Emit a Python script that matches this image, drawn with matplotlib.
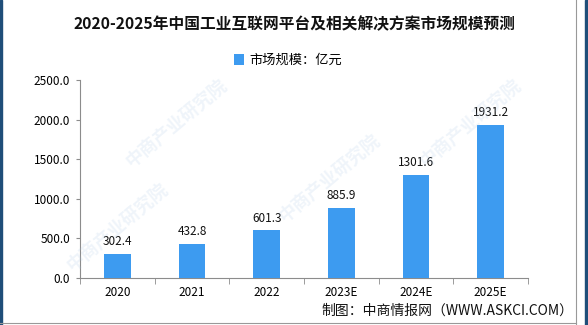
import numpy as np
import matplotlib.pyplot as plt
from matplotlib.patches import Rectangle

plt.rcParams['font.family'] = ['Noto Sans CJK SC', 'DejaVu Sans']

years = ['2020', '2021', '2022', '2023E', '2024E', '2025E']
market_size = [302.4, 432.8, 601.3, 885.9, 1301.6, 1931.2]
yticks = [0, 500, 1000, 1500, 2000, 2500]

bar_color = '#3d9bf0'
axis_color = '#8c8c8c'

fig = plt.figure(figsize=(5.88, 3.25), dpi=100)
ax = fig.add_axes([0.136, 0.145, 0.762, 0.609])

x = np.arange(len(years))
ax.bar(x, market_size, width=0.36, color=bar_color, label='市场规模：亿元', zorder=3)

for xi, v in zip(x, market_size):
    ax.text(xi, v + 70, f'{v:.1f}', ha='center', va='bottom', fontsize=8.5, color='#111111')

ax.set_xlim(-0.5, len(years) - 0.5)
ax.set_ylim(0, 2500)
ax.set_yticks(yticks)
ax.set_yticklabels([f'{t:.1f}' for t in yticks], fontsize=8.5)
ax.set_xticks(x)
ax.set_xticklabels(years, fontsize=8.5)
ax.set_xticks(np.arange(-0.5, len(years)), minor=True)
ax.tick_params(axis='x', which='major', length=0, pad=6)
ax.tick_params(axis='x', which='minor', length=4, color=axis_color, direction='out')
ax.tick_params(axis='y', length=3, color=axis_color, pad=4)

for s in ['top', 'right']:
    ax.spines[s].set_visible(False)
for s in ['left', 'bottom']:
    ax.spines[s].set_color(axis_color)

# title / legend / source
fig.text(0.5, 0.925, '2020-2025年中国工业互联网平台及相关解决方案市场规模预测',
         ha='center', va='center', fontsize=11.3, fontweight='bold', color='#111111')
fig.legend(loc='center', bbox_to_anchor=(0.49, 0.815), frameon=False, fontsize=9.5,
           handlelength=0.7, handleheight=0.9, handletextpad=0.4)
fig.text(0.975, 0.045, '制图：中商情报网（WWW.ASKCI.COM）', ha='right', va='center',
         fontsize=10, color='#111111')

# faint watermark
for wx, wy in [(0.30, 0.62), (0.56, 0.45), (0.80, 0.62), (0.20, 0.30)]:
    fig.text(wx, wy, '中商产业研究院', rotation=40, fontsize=13, color='#a9c6e3',
             alpha=0.18, ha='center', va='center', fontweight='bold', zorder=0)

# frame
fig.add_artist(Rectangle((0, 0), 0.004, 1, transform=fig.transFigure, color='#1f4e79'))
fig.add_artist(Rectangle((0.995, 0), 0.005, 1, transform=fig.transFigure, color='#1f4e79'))
fig.add_artist(plt.Line2D([0.98, 0.98], [0.0, 1.0], transform=fig.transFigure, color='#999999', lw=0.8))
fig.add_artist(plt.Line2D([0.0, 0.98], [0.006, 0.006], transform=fig.transFigure, color='#999999', lw=0.8))

fig.savefig('out.png', dpi=100)
